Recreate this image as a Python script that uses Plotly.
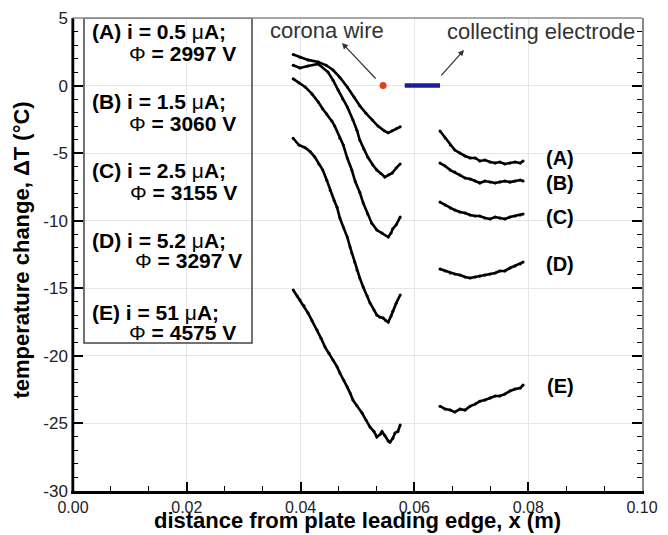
import plotly.graph_objects as go

# Surface temperature change along the plate, five discharge cases.
# Each case is measured on two stretches: upstream of the corona wire
# region (left) and over/after the collecting electrode (right).

cases = ["A", "B", "C", "D", "E"]
currents = ["0.5", "1.5", "2.5", "5.2", "51"]
voltages = ["2997", "3060", "3155", "3297", "4575"]

# upstream stretch, x in m, dT in degC
a_left_x = [0.0387, 0.0399, 0.0413, 0.0431, 0.0445, 0.0457, 0.0469, 0.0482, 0.0494,
            0.0504, 0.0515, 0.0526, 0.0536, 0.0547, 0.0554, 0.0561, 0.0568, 0.0575]
a_left_y = [2.3, 2.1, 1.9, 1.75, 1.5, 1.15, 0.6, -0.1, -0.85,
            -1.5, -2.05, -2.55, -3.0, -3.35, -3.5, -3.35, -3.2, -3.05]

b_left_x = [0.0387, 0.0399, 0.0413, 0.0431, 0.0448, 0.0457, 0.0466, 0.0474, 0.0482,
            0.0492, 0.0499, 0.0504, 0.0511, 0.0518, 0.0527, 0.0534, 0.0541, 0.0548,
            0.0555, 0.0561, 0.0568, 0.0575]
b_left_y = [1.5, 1.3, 1.45, 1.6, 1.0, 0.4, -0.33, -1.0, -1.58,
            -2.55, -3.3, -4.03, -4.7, -5.29, -5.88, -6.25, -6.5, -6.77,
            -6.6, -6.47, -6.1, -5.8]

c_left_x = [0.0387, 0.0397, 0.0408, 0.0420, 0.0431, 0.0439, 0.0446, 0.0455, 0.0460,
            0.0469, 0.0475, 0.0482, 0.0490, 0.0496, 0.0504, 0.0510, 0.0518, 0.0525,
            0.0534, 0.0543, 0.0554, 0.0559, 0.0562, 0.0568, 0.0575]
c_left_y = [0.5, 0.2, -0.1, -0.62, -1.21, -1.73, -2.1, -2.63, -3.0,
            -3.9, -4.4, -5.36, -6.25, -7.1, -7.9, -8.69, -9.5, -10.18,
            -10.69, -10.91, -11.21, -10.9, -10.6, -10.3, -9.73]

d_left_x = [0.0387, 0.0397, 0.0408, 0.0417, 0.0425, 0.0432, 0.0439, 0.0446, 0.0452,
            0.0459, 0.0464, 0.0469, 0.0475, 0.0482, 0.0487, 0.0490, 0.0495, 0.0499,
            0.0504, 0.0510, 0.0517, 0.0522, 0.0529, 0.0534, 0.0539, 0.0545, 0.0550,
            0.0554, 0.0559, 0.0562, 0.0568, 0.0575]
d_left_y = [-3.9, -4.4, -4.6, -4.9, -5.29, -5.8, -6.25, -7.0, -7.74,
            -8.5, -9.0, -9.8, -10.47, -11.21, -11.95, -12.39, -13.06, -13.65,
            -14.24, -14.91, -15.58, -16.09, -16.6, -16.98, -17.13, -17.2, -17.4,
            -17.5, -17.05, -16.7, -16.1, -15.5]

e_left_x = [0.0387, 0.0394, 0.0399, 0.0406, 0.0413, 0.0420, 0.0429, 0.0436, 0.0443,
            0.0450, 0.0457, 0.0464, 0.0469, 0.0476, 0.0482, 0.0487, 0.0492, 0.0499,
            0.0508, 0.0515, 0.0522, 0.0529, 0.0534, 0.0540, 0.0543, 0.0548, 0.0554,
            0.0557, 0.0562, 0.0566, 0.0571, 0.0575]
e_left_y = [-15.13, -15.57, -15.87, -16.3, -16.83, -17.4, -18.09, -18.7, -19.35,
            -19.8, -20.31, -20.8, -21.27, -21.8, -22.31, -22.75, -23.27, -23.7,
            -24.23, -24.75, -25.27, -25.6, -26.0, -25.8, -25.6, -25.9, -26.3,
            -26.39, -26.1, -25.7, -25.6, -25.12]

# downstream stretch (shared x positions)
right_x = [0.0645, 0.0654, 0.0663, 0.0671, 0.0680, 0.0689, 0.0698, 0.0707, 0.0715,
           0.0724, 0.0733, 0.0742, 0.0750, 0.0759, 0.0768, 0.0777, 0.0786, 0.0791]
a_right_y = [-3.36, -3.88, -4.4, -4.77, -4.99, -5.21, -5.36, -5.36, -5.58,
             -5.51, -5.66, -5.73, -5.66, -5.8, -5.73, -5.66, -5.73, -5.58]
b_right_y = [-5.73, -5.95, -6.25, -6.4, -6.62, -6.84, -6.91, -7.06, -7.21,
             -7.06, -7.14, -7.21, -7.14, -7.06, -7.14, -7.06, -6.99, -7.06]
c_right_y = [-8.62, -8.84, -9.06, -9.21, -9.36, -9.43, -9.58, -9.65, -9.65,
             -9.8, -9.87, -9.73, -9.8, -9.87, -9.73, -9.65, -9.58, -9.5]
d_right_y = [-13.58, -13.72, -13.87, -13.95, -14.02, -14.17, -14.24, -14.17, -14.1,
             -14.02, -13.95, -13.87, -13.72, -13.72, -13.5, -13.35, -13.2, -13.06]
e_right_y = [-23.72, -23.94, -24.01, -24.16, -23.94, -24.01, -23.72, -23.57, -23.35,
             -23.27, -23.12, -22.97, -22.97, -22.83, -22.6, -22.45, -22.38, -22.16]

left_x = [a_left_x, b_left_x, c_left_x, d_left_x, e_left_x]
left_y = [a_left_y, b_left_y, c_left_y, d_left_y, e_left_y]
right_y = [a_right_y, b_right_y, c_right_y, d_right_y, e_right_y]

# axis ticks
x_ticks = [0.0, 0.02, 0.04, 0.06, 0.08, 0.10]
x_tick_text = ["0.00", "0.02", "0.04", "0.06", "0.08", "0.10"]
y_ticks = [5, 0, -5, -10, -15, -20, -25, -30]
y_tick_text = ["5", "0", "-5", "-10", "-15", "-20", "-25", "-30"]

# curve tags placed beside the downstream stretches
tag_x = 0.0856
tag_y = [-5.36, -7.21, -9.73, -13.2, -22.2]

# hardware positions along the plate
wire_x = 0.0545
electrode_x = [0.0583, 0.0645]

FONT = "Arial, Liberation Sans, Helvetica, sans-serif"

fig = go.Figure()

for lx, ly, ry in zip(left_x, left_y, right_y):
    for xs, ys in ((lx, ly), (right_x, ry)):
        fig.add_trace(go.Scatter(
            x=xs, y=ys, mode="lines+markers",
            line=dict(color="black", width=2.6),
            marker=dict(color="black", size=3),
            showlegend=False, hoverinfo="skip"))

fig.add_trace(go.Scatter(
    x=electrode_x, y=[0, 0], mode="lines",
    line=dict(color="#1c1c9c", width=4.5),
    showlegend=False, hoverinfo="skip"))
fig.add_trace(go.Scatter(
    x=[wire_x], y=[0], mode="markers",
    marker=dict(color="#e2401e", size=7),
    showlegend=False, hoverinfo="skip"))

annotations = []
for name, yv in zip(cases, tag_y):
    annotations.append(dict(
        x=tag_x, y=yv, xref="x", yref="y", text=f"({name})", showarrow=False,
        font=dict(family=FONT, size=20, color="black", weight="bold"), xanchor="center"))

# description box contents
line1_y = [3.97, -1.21, -6.32, -11.43, -16.77]
line2_y = [2.41, -2.77, -7.88, -12.98, -18.25]
line2_x = [0.00949, 0.00949, 0.00967, 0.01054, 0.00949]
for name, cur, volt, y1, y2, x2 in zip(cases, currents, voltages, line1_y, line2_y, line2_x):
    annotations.append(dict(
        x=0.00299, y=y1, xref="x", yref="y", showarrow=False,
        text=f"({name}) i = {cur} <span style='font-weight:normal'>\u03bc</span>A;",
        font=dict(family=FONT, size=21, color="black", weight="bold"),
        xanchor="left", yanchor="middle"))
    annotations.append(dict(
        x=x2, y=y2, xref="x", yref="y", showarrow=False,
        text=f"<span style='font-weight:normal'>\u03a6</span> = {volt} V",
        font=dict(family=FONT, size=21, color="black", weight="bold"),
        xanchor="left", yanchor="middle"))

annotations += [
    dict(x=0.04464, y=4.11, xref="x", yref="y", text="corona wire", showarrow=False,
         font=dict(family=FONT, size=22, color="#333333")),
    dict(x=0.0823, y=3.97, xref="x", yref="y", text="collecting electrode", showarrow=False,
         font=dict(family=FONT, size=22, color="#333333")),
    dict(x=0.04728, y=3.15, ax=0.05343, ay=0.41, xref="x", yref="y", axref="x", ayref="y",
         text="", showarrow=True, arrowhead=2, arrowsize=1, arrowwidth=1.2,
         arrowcolor="#333333"),
    dict(x=0.06872, y=2.64, ax=0.0645, ay=0.64, xref="x", yref="y", axref="x", ayref="y",
         text="", showarrow=True, arrowhead=2, arrowsize=1, arrowwidth=1.2,
         arrowcolor="#333333"),
    dict(x=0.5, y=-0.0005, xref="paper", yref="paper", showarrow=False,
         text="distance from plate leading edge, x (m)",
         font=dict(family=FONT, size=22, color="black", weight="bold"),
         xanchor="center", yanchor="bottom", yshift=-44),
    dict(x=-0.09, y=0.51, xref="paper", yref="paper", showarrow=False, textangle=-90,
         text="temperature change, \u0394T (\u00b0C)",
         font=dict(family=FONT, size=22, color="black", weight="bold"),
         xanchor="center", yanchor="middle"),
]

shapes = [
    # description box
    dict(type="rect", xref="x", yref="y", x0=0.00193, x1=0.03146, y0=-19.05, y1=5,
         line=dict(color="#444444", width=1.5), fillcolor="rgba(0,0,0,0)", layer="above"),
    # frame: dark left edge, light top edge
    dict(type="line", xref="paper", yref="paper", x0=0, x1=0, y0=0, y1=1,
         line=dict(color="black", width=2.5)),
    dict(type="line", xref="paper", yref="paper", x0=0, x1=1, y0=1, y1=1,
         line=dict(color="#8a8a8a", width=1.5)),
]

fig.update_layout(
    width=668, height=535,
    margin=dict(l=73, r=26, t=18, b=44),
    paper_bgcolor="white", plot_bgcolor="white",
    showlegend=False,
    annotations=annotations,
    shapes=shapes,
    xaxis=dict(
        range=[0, 0.1], tickvals=x_ticks, ticktext=x_tick_text,
        ticks="inside", ticklen=9, tickwidth=2, tickcolor="black",
        minor=dict(dtick=0.02 / 3, ticks="inside", ticklen=5, tickwidth=1.2,
                   tickcolor="black", showgrid=False),
        showline=True, linecolor="black", linewidth=2.5, mirror=False,
        showgrid=True, gridcolor="#e6e6e6", gridwidth=1, zeroline=False,
        tickfont=dict(family=FONT, size=16, color="#222222"), automargin=False),
    yaxis=dict(
        range=[-30, 5], tickvals=y_ticks, ticktext=y_tick_text,
        ticks="inside", ticklen=10, tickwidth=2, tickcolor="black",
        minor=dict(dtick=1, ticks="inside", ticklen=5, tickwidth=1.2,
                   tickcolor="black", showgrid=False),
        showline=True, linecolor="#8a8a8a", linewidth=1.5, mirror="ticks",
        showgrid=True, gridcolor="#e6e6e6", gridwidth=1, zeroline=False,
        tickfont=dict(family=FONT, size=17, color="#222222"), automargin=False),
)

fig.write_html("out.html")
